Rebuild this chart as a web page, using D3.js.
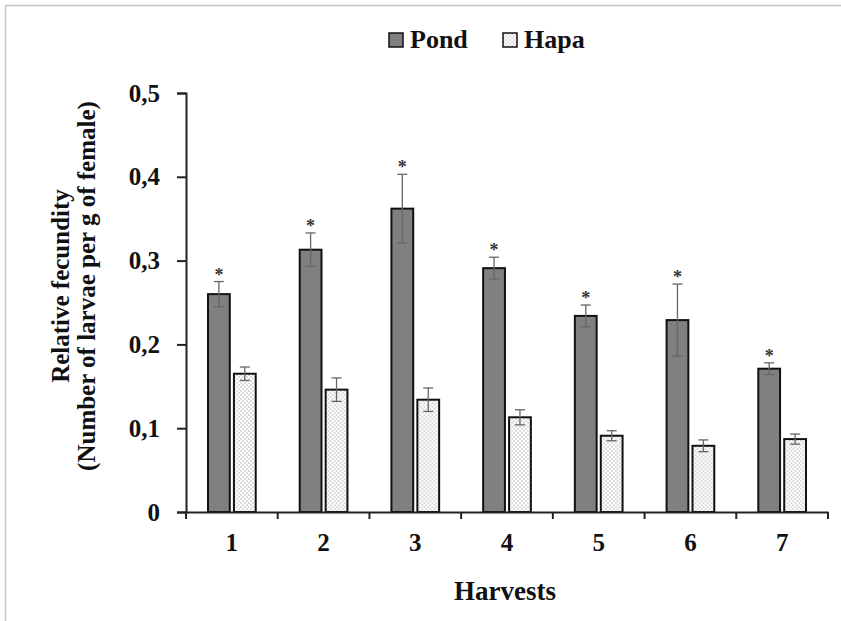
<!DOCTYPE html>
<html>
<head>
<meta charset="utf-8">
<script src="https://cdn.jsdelivr.net/npm/d3@7"></script>
<style>
  body { margin: 0; background: #fff; }
  svg { display: block; font-family: "Liberation Serif", "Times New Roman", serif; font-weight: bold; }
</style>
</head>
<body>
<svg id="chart" width="841" height="621"></svg>
<script>
// data
const harvests = ["1", "2", "3", "4", "5", "6", "7"];
const series = ["Pond", "Hapa"];
const pond = [0.260, 0.313, 0.362, 0.291, 0.234, 0.229, 0.171];
const pondErr = [0.015, 0.020, 0.041, 0.013, 0.013, 0.043, 0.007];
const hapa = [0.165, 0.146, 0.134, 0.113, 0.091, 0.079, 0.087];
const hapaErr = [0.008, 0.014, 0.014, 0.009, 0.006, 0.007, 0.006];
const yTicks = [0, 0.1, 0.2, 0.3, 0.4, 0.5];

const svg = d3.select('#chart');

// outer frame (only top/left visible in the crop)
svg.append('rect')
  .attr('x', 5.5).attr('y', 5.5)
  .attr('width', 900).attr('height', 700)
  .attr('fill', 'none').attr('stroke', '#c8c8c8').attr('stroke-width', 1.5);

// dotted pattern for hapa bars
const defs = svg.append('defs');
const pat = defs.append('pattern')
  .attr('id', 'dots').attr('patternUnits', 'userSpaceOnUse')
  .attr('width', 4).attr('height', 4);
pat.append('rect').attr('width', 4).attr('height', 4).attr('fill', '#fff');
pat.append('circle').attr('cx', 1).attr('cy', 1).attr('r', 0.7).attr('fill', '#a0a0a0');
pat.append('circle').attr('cx', 3).attr('cy', 3).attr('r', 0.7).attr('fill', '#a0a0a0');

const plotL = 186, plotR = 828, plotT = 93, plotB = 512;

const x = d3.scaleBand().domain(harvests).range([plotL, plotR]).paddingInner(0).paddingOuter(0);
const x1 = d3.scaleBand().domain(series).range([22, x.bandwidth() - 22]).paddingInner(0.16);
const y = d3.scaleLinear().domain([0, 0.5]).range([plotB, plotT]);

const fills = { Pond: '#808080', Hapa: 'url(#dots)' };
const rows = harvests.map((h, i) => ({
  h,
  bars: [
    { s: 'Pond', v: pond[i], e: pondErr[i], star: true },
    { s: 'Hapa', v: hapa[i], e: hapaErr[i], star: false }
  ]
}));

const groups = svg.append('g').selectAll('g').data(rows).join('g')
  .attr('transform', d => `translate(${x(d.h)},0)`);

groups.selectAll('rect').data(d => d.bars).join('rect')
  .attr('x', d => x1(d.s))
  .attr('y', d => y(d.v))
  .attr('width', x1.bandwidth())
  .attr('height', d => y(0) - y(d.v))
  .attr('fill', d => fills[d.s])
  .attr('stroke', '#111').attr('stroke-width', 2);

// error bars (drawn both ways like Excel)
const eb = groups.selectAll('g.err').data(d => d.bars).join('g').attr('class', 'err')
  .attr('stroke', '#666').attr('stroke-width', 1.3);
eb.append('line')
  .attr('x1', d => x1(d.s) + x1.bandwidth() / 2).attr('x2', d => x1(d.s) + x1.bandwidth() / 2)
  .attr('y1', d => y(d.v + d.e)).attr('y2', d => y(d.v - d.e));
eb.append('line')
  .attr('x1', d => x1(d.s) + x1.bandwidth() / 2 - 5).attr('x2', d => x1(d.s) + x1.bandwidth() / 2 + 5)
  .attr('y1', d => y(d.v + d.e)).attr('y2', d => y(d.v + d.e));
eb.append('line')
  .attr('x1', d => x1(d.s) + x1.bandwidth() / 2 - 5).attr('x2', d => x1(d.s) + x1.bandwidth() / 2 + 5)
  .attr('y1', d => y(d.v - d.e)).attr('y2', d => y(d.v - d.e));

// significance asterisks
groups.selectAll('text.star').data(d => d.bars.filter(b => b.star)).join('text')
  .attr('class', 'star')
  .attr('x', d => x1(d.s) + x1.bandwidth() / 2)
  .attr('y', d => y(d.v + d.e) - 1)
  .attr('text-anchor', 'middle')
  .attr('font-size', 18).attr('fill', '#333')
  .text('*');

// y axis
const yAxis = svg.append('g').attr('transform', `translate(${plotL},0)`)
  .call(d3.axisLeft(y).tickValues(yTicks).tickSize(9).tickPadding(17)
    .tickFormat(d => d === 0 ? '0' : d3.format('.1f')(d).replace('.', ',')));
yAxis.select('.domain').attr('stroke', '#222').attr('stroke-width', 2);
yAxis.selectAll('.tick line').attr('stroke', '#222').attr('stroke-width', 2);
yAxis.selectAll('text').attr('font-size', 25).attr('fill', '#111')
  .attr('font-family', '"Liberation Serif", serif').attr('font-weight', 'bold');

// x axis: category labels, tick marks at the category boundaries
const xAxis = svg.append('g').attr('transform', `translate(0,${plotB})`)
  .call(d3.axisBottom(x).tickSize(0).tickPadding(21).tickSizeOuter(0));
xAxis.select('.domain').attr('stroke', '#222').attr('stroke-width', 2);
xAxis.selectAll('text').attr('font-size', 25).attr('fill', '#111')
  .attr('font-family', '"Liberation Serif", serif').attr('font-weight', 'bold');
xAxis.selectAll('line.sep').data(harvests.map(h => x(h)).concat([x(harvests[harvests.length - 1]) + x.bandwidth()]))
  .join('line').attr('class', 'sep')
  .attr('x1', d => d).attr('x2', d => d).attr('y1', 0).attr('y2', 7)
  .attr('stroke', '#222').attr('stroke-width', 2);

// axis titles
svg.append('text')
  .attr('x', 505).attr('y', 600)
  .attr('text-anchor', 'middle').attr('font-size', 27).attr('fill', '#111')
  .text('Harvests');

const yTitle = svg.append('text')
  .attr('transform', 'translate(0,286) rotate(-90)')
  .attr('text-anchor', 'middle').attr('font-size', 25).attr('fill', '#111');
yTitle.append('tspan').attr('x', 0).attr('y', 69).text('Relative fecundity');
yTitle.append('tspan').attr('x', 0).attr('y', 95).text('(Number of larvae per g of female)');

// legend
const legendX = [389, 503];
const lg = svg.append('g').selectAll('g').data(series).join('g')
  .attr('transform', (d, i) => `translate(${legendX[i]},33)`);
lg.append('rect').attr('width', 14).attr('height', 14)
  .attr('fill', d => fills[d]).attr('stroke', '#111').attr('stroke-width', 1.5);
lg.append('text').attr('x', 21).attr('y', 15)
  .attr('font-size', 26).attr('fill', '#111').text(d => d);
</script>
</body>
</html>
